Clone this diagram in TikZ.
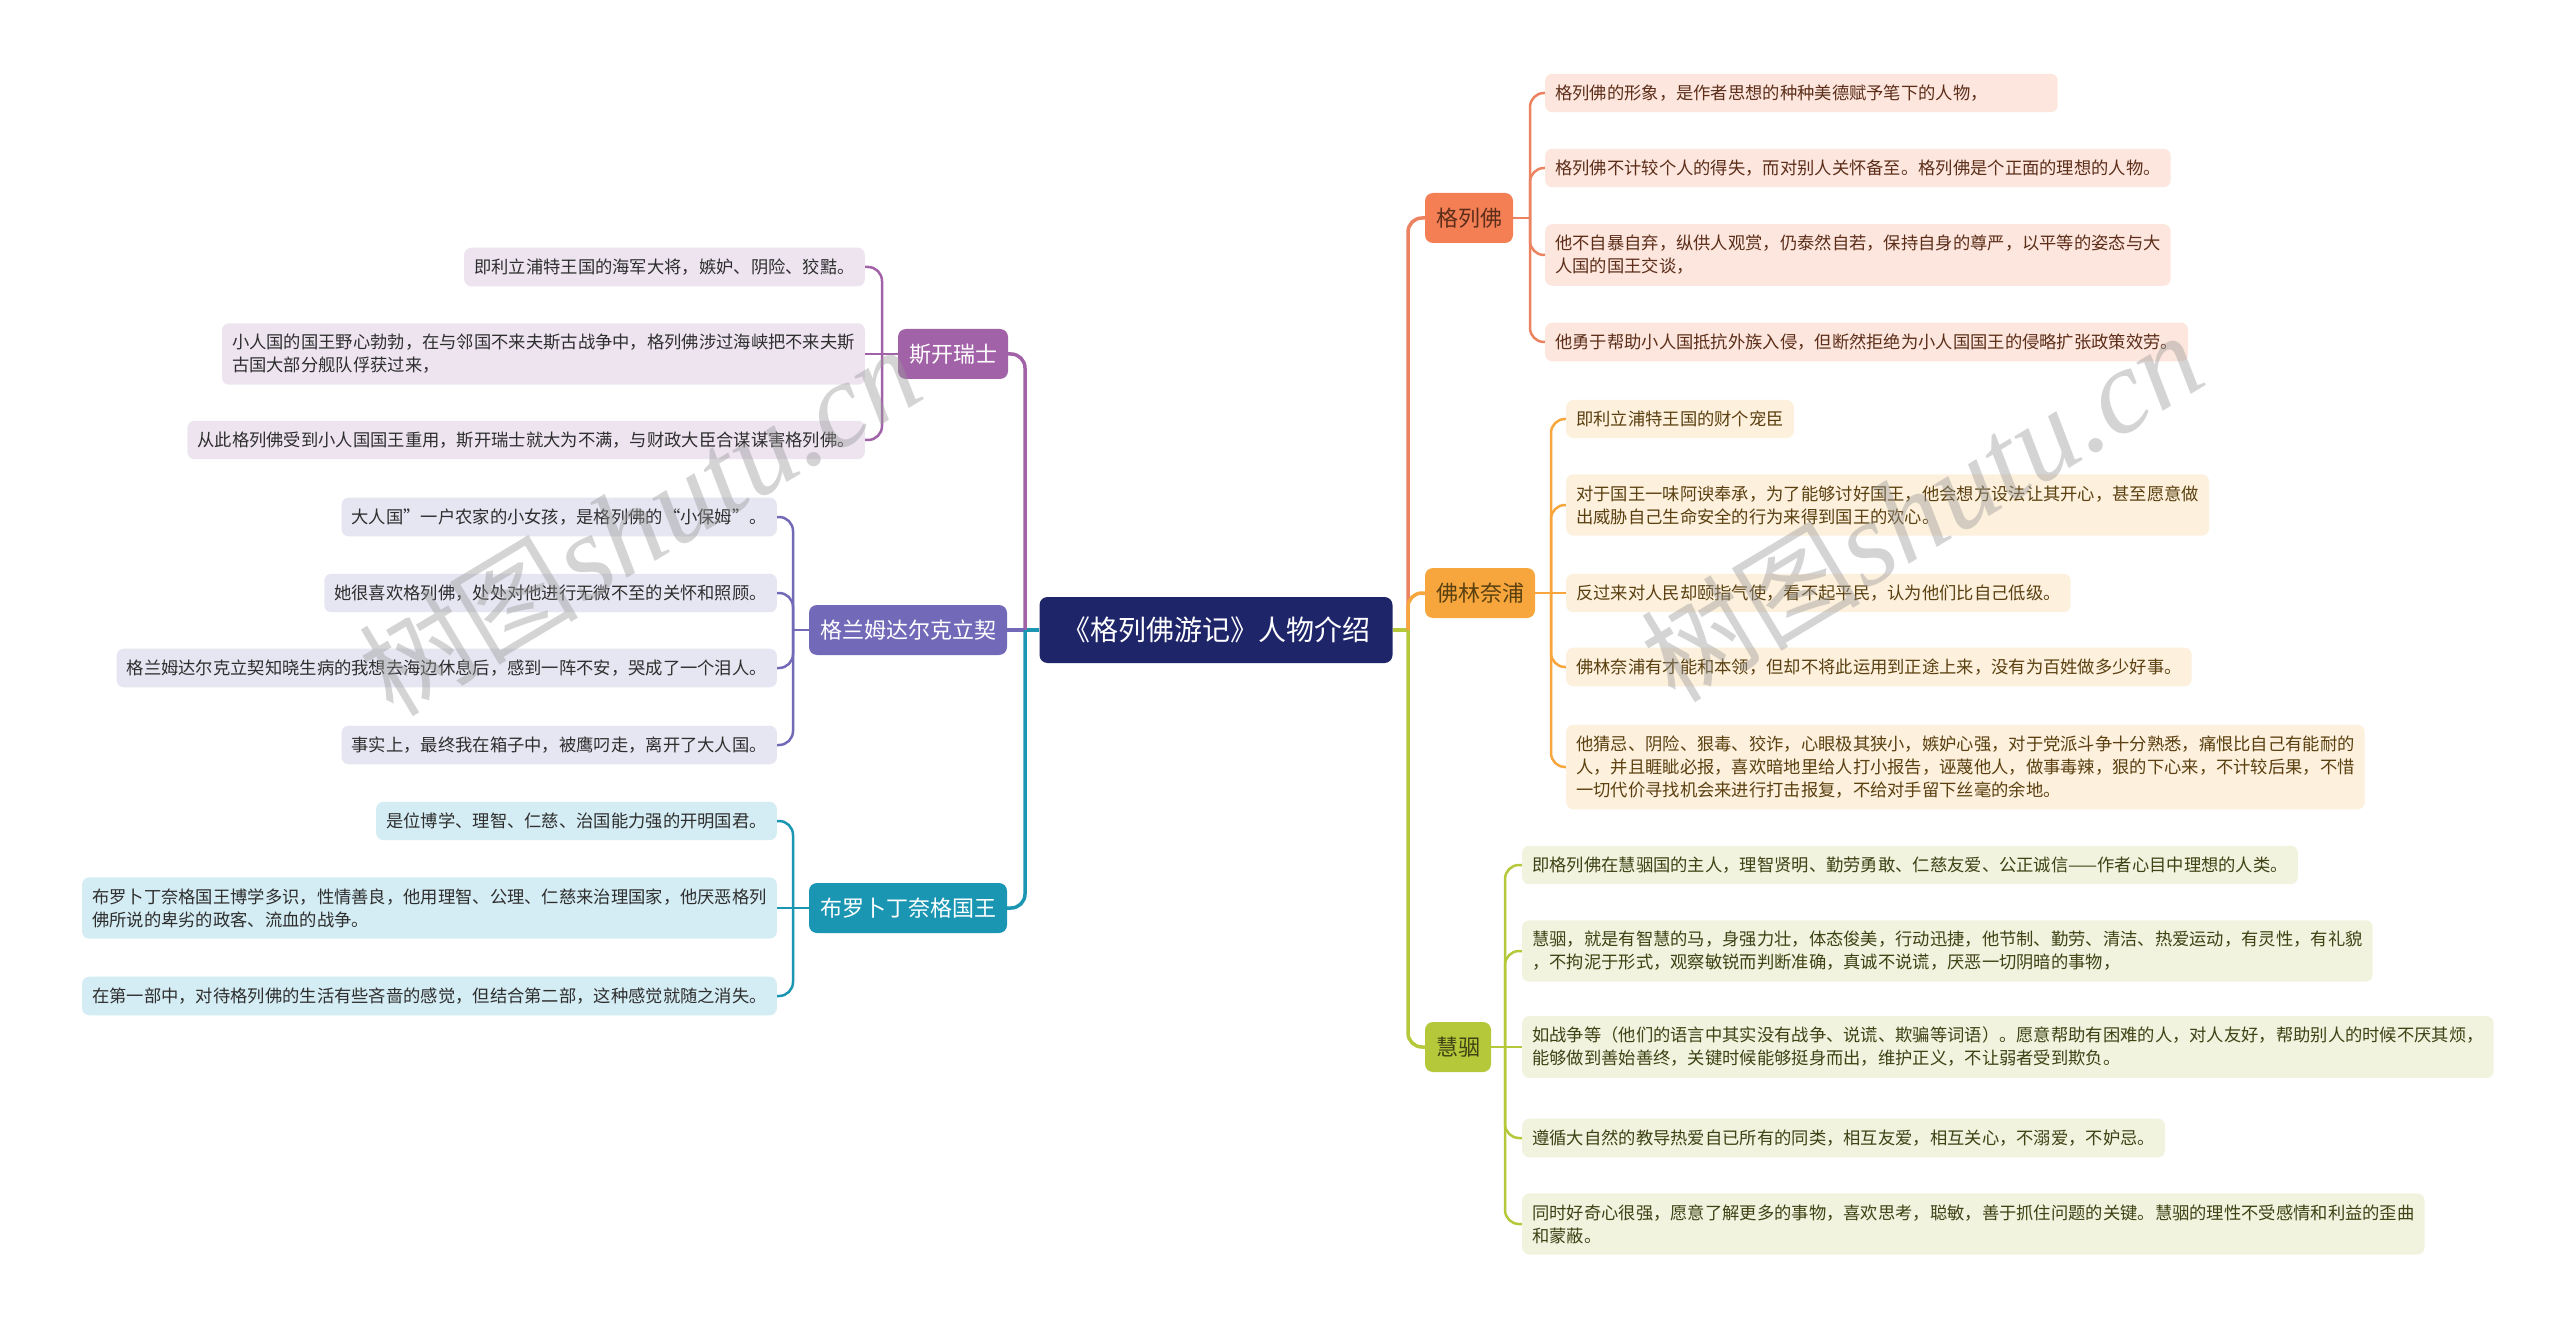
\documentclass[tikz,border=0pt]{standalone}
\usepackage{fontspec}
\newfontfamily\cjk{Noto Sans CJK SC}
\newfontfamily\wmserif{Liberation Serif}
\pgfdeclarelayer{bg}
\pgfdeclarelayer{wm}
\pgfsetlayers{bg,main,wm}
\definecolor{cCen}{HTML}{1E2569}
\definecolor{cS}{HTML}{A262A8}
\definecolor{lS}{HTML}{EDE4F0}
\definecolor{cG}{HTML}{7369B9}
\definecolor{lG}{HTML}{E6E5F2}
\definecolor{cB}{HTML}{1A96B3}
\definecolor{lB}{HTML}{D4ECF3}
\definecolor{cF}{HTML}{F47F55}
\definecolor{lnF}{HTML}{EC8360}
\definecolor{lF}{HTML}{FDE6DD}
\definecolor{tF}{HTML}{5C2E1A}
\definecolor{cL}{HTML}{F6A63C}
\definecolor{lL}{HTML}{FDF0DC}
\definecolor{tL}{HTML}{5A4010}
\definecolor{cH}{HTML}{B4C83A}
\definecolor{lH}{HTML}{F1F3DE}
\definecolor{tH}{HTML}{3E4214}
\definecolor{tDark}{HTML}{2E2E2E}
\tikzset{
  central/.style={fill=cCen, text=white, rounded corners=8pt, font=\cjk\fontsize{28}{32}\selectfont, minimum width=353pt, minimum height=66pt, inner sep=0pt},
  branch/.style={rounded corners=8pt, font=\cjk\fontsize{22}{26}\selectfont, inner xsep=11pt, inner ysep=0pt, minimum height=50pt},
  leaf/.style={rounded corners=7pt, font=\cjk\fontsize{17.3}{23}\selectfont, align=left, inner xsep=10pt, inner ysep=11pt},
  leafS/.style={leaf, fill=lS, text=tDark, anchor=east},
  leafG/.style={leaf, fill=lG, text=tDark, anchor=east},
  leafB/.style={leaf, fill=lB, text=tDark, anchor=east},
  leafF/.style={leaf, fill=lF, text=tF, anchor=west},
  leafL/.style={leaf, fill=lL, text=tL, anchor=west},
  leafH/.style={leaf, fill=lH, text=tH, anchor=west},
  trunk/.style={line width=3.5pt, rounded corners=14pt},
  twig/.style={line width=2.5pt, rounded corners=14pt},
  watermark/.style={text=black!40, opacity=0.42, rotate=31, inner sep=0pt}
}
\begin{document}
\begin{tikzpicture}[x=1pt,y=-1pt]
\useasboundingbox (0,0) rectangle (2560,1329);
\begin{pgfonlayer}{bg}
\fill[white] (0,0) rectangle (2560,1329);
\end{pgfonlayer}

% central topic
\node[central] (C) at (1216,630) {《格列佛游记》人物介绍};

% branches
\node[branch, fill=cF, text=tF] (F) at (1469,218) {格列佛};
\node[branch, fill=cL, text=tL] (L) at (1480,593) {佛林奈浦};
\node[branch, fill=cH, text=tH] (H) at (1458,1047) {慧骃};
\node[branch, fill=cS, text=white] (S) at (953,354) {斯开瑞士};
\node[branch, fill=cG, text=white] (G) at (908,630) {格兰姆达尔克立契};
\node[branch, fill=cB, text=white] (B) at (908,908) {布罗卜丁奈格国王};

% 格列佛 leaves
\node[leafF] (F1) at (1545,93) {格列佛的形象，是作者思想的种种美德赋予笔下的人物，\hspace{60pt}};
\node[leafF] (F2) at (1545,168) {格列佛不计较个人的得失，而对别人关怀备至。格列佛是个正面的理想的人物。};
\node[leafF] (F3) at (1545,255) {他不自暴自弃，纵供人观赏，仍泰然自若，保持自身的尊严，以平等的姿态与大\\人国的国王交谈，};
\node[leafF] (F4) at (1545,342) {他勇于帮助小人国抵抗外族入侵，但断然拒绝为小人国国王的侵略扩张政策效劳。};

% 佛林奈浦 leaves
\node[leafL] (L1) at (1566,419) {即利立浦特王国的财个宠臣};
\node[leafL] (L2) at (1566,505) {对于国王一味阿谀奉承，为了能够讨好国王，他会想方设法让其开心，甚至愿意做\\出威胁自己生命安全的行为来得到国王的欢心。};
\node[leafL] (L3) at (1566,593) {反过来对人民却颐指气使，看不起平民，认为他们比自己低级。};
\node[leafL] (L4) at (1566,667) {佛林奈浦有才能和本领，但却不将此运用到正途上来，没有为百姓做多少好事。};
\node[leafL] (L5) at (1566,767) {他猜忌、阴险、狠毒、狡诈，心眼极其狭小，嫉妒心强，对于党派斗争十分熟悉，痛恨比自己有能耐的\\人，并且睚眦必报，喜欢暗地里给人打小报告，诬蔑他人，做事毒辣，狠的下心来，不计较后果，不惜\\一切代价寻找机会来进行打击报复，不给对手留下丝毫的余地。};

% 慧骃 leaves
\node[leafH] (H1) at (1522,865) {即格列佛在慧骃国的主人，理智贤明、勤劳勇敢、仁慈友爱、公正诚信——作者心目中理想的人类。};
\node[leafH] (H2) at (1522,951) {慧骃，就是有智慧的马，身强力壮，体态俊美，行动迅捷，他节制、勤劳、清洁、热爱运动，有灵性，有礼貌\\，不拘泥于形式，观察敏锐而判断准确，真诚不说谎，厌恶一切阴暗的事物，};
\node[leafH] (H3) at (1522,1047) {如战争等（他们的语言中其实没有战争、说谎、欺骗等词语）。愿意帮助有困难的人，对人友好，帮助别人的时候不厌其烦，\\能够做到善始善终，关键时候能够挺身而出，维护正义，不让弱者受到欺负。};
\node[leafH] (H4) at (1522,1138) {遵循大自然的教导热爱自已所有的同类，相互友爱，相互关心，不溺爱，不妒忌。};
\node[leafH] (H5) at (1522,1224) {同时好奇心很强，愿意了解更多的事物，喜欢思考，聪敏，善于抓住问题的关键。慧骃的理性不受感情和利益的歪曲\\和蒙蔽。};

% 斯开瑞士 leaves
\node[leafS] (S1) at (865,267) {即利立浦特王国的海军大将，嫉妒、阴险、狡黠。};
\node[leafS] (S2) at (865,354) {小人国的国王野心勃勃，在与邻国不来夫斯古战争中，格列佛涉过海峡把不来夫斯\\古国大部分舰队俘获过来，};
\node[leafS] (S3) at (865,440) {从此格列佛受到小人国国王重用，斯开瑞士就大为不满，与财政大臣合谋谋害格列佛。};

% 格兰姆达尔克立契 leaves
\node[leafG] (G1) at (777,517) {大人国”一户农家的小女孩，是格列佛的“小保姆”。};
\node[leafG] (G2) at (777,593) {她很喜欢格列佛，处处对他进行无微不至的关怀和照顾。};
\node[leafG] (G3) at (777,668) {格兰姆达尔克立契知晓生病的我想去海边休息后，感到一阵不安，哭成了一个泪人。};
\node[leafG] (G4) at (777,745) {事实上，最终我在箱子中，被鹰叼走，离开了大人国。};

% 布罗卜丁奈格国王 leaves
\node[leafB] (B1) at (777,821) {是位博学、理智、仁慈、治国能力强的开明国君。};
\node[leafB] (B2) at (777,908) {布罗卜丁奈格国王博学多识，性情善良，他用理智、公理、仁慈来治理国家，他厌恶格列\\佛所说的卑劣的政客、流血的战争。};
\node[leafB] (B3) at (777,996) {在第一部中，对待格列佛的生活有些吝啬的感觉，但结合第二部，这种感觉就随之消失。};

\begin{pgfonlayer}{bg}
  % right trunk
  \draw[trunk, cH] (C.east) -- (1408,630) coordinate (RT);
  \draw[trunk, lnF] (RT) |- (F.west);
  \draw[trunk, cL] (RT) |- (L.west);
  \draw[trunk, cH] (RT) |- (H.west);
  % left trunk
  \draw[trunk, cB] (C.west) -- (1025,630) coordinate (LT);
  \draw[trunk, cS] (LT) |- (S.east);
  \draw[trunk, cG] (LT) -- (G.east);
  \draw[trunk, cB] (LT) |- (B.east);
  % twigs F
  \draw[twig, lnF] (F.east) -- (1530,218) coordinate (FJ);
  \foreach \n in {F1,F2,F3,F4} \draw[twig, lnF] (FJ) |- (\n.west);
  % twigs L
  \draw[twig, cL] (L.east) -- (1551,593) coordinate (LJ);
  \foreach \n in {L1,L2,L4,L5} \draw[twig, cL] (LJ) |- (\n.west);
  \draw[twig, cL] (LJ) -- (L3.west);
  % twigs H
  \draw[twig, cH] (H.east) -- (1505,1047) coordinate (HJ);
  \foreach \n in {H1,H2,H4,H5} \draw[twig, cH] (HJ) |- (\n.west);
  \draw[twig, cH] (HJ) -- (H3.west);
  % twigs S
  \draw[twig, cS] (S.west) -- (882,354) coordinate (SJ);
  \foreach \n in {S1,S3} \draw[twig, cS] (SJ) |- (\n.east);
  \draw[twig, cS] (SJ) -- (S2.east);
  % twigs G
  \draw[twig, cG] (G.west) -- (793,630) coordinate (GJ);
  \foreach \n in {G1,G2,G3,G4} \draw[twig, cG] (GJ) |- (\n.east);
  % twigs B
  \draw[twig, cB] (B.west) -- (793,908) coordinate (BJ);
  \foreach \n in {B1,B3} \draw[twig, cB] (BJ) |- (\n.east);
  \draw[twig, cB] (BJ) -- (B2.east);
\end{pgfonlayer}

\begin{pgfonlayer}{wm}
  \node[watermark] (W1) at (640,522) {{\cjk\fontsize{110}{110}\selectfont 树图}\,{\wmserif\itshape\fontsize{120}{120}\selectfont shutu.cn}};
  \node[watermark] (W2) at (1922,508) {{\cjk\fontsize{110}{110}\selectfont 树图}\,{\wmserif\itshape\fontsize{120}{120}\selectfont shutu.cn}};
\end{pgfonlayer}
\end{tikzpicture}
\end{document}
